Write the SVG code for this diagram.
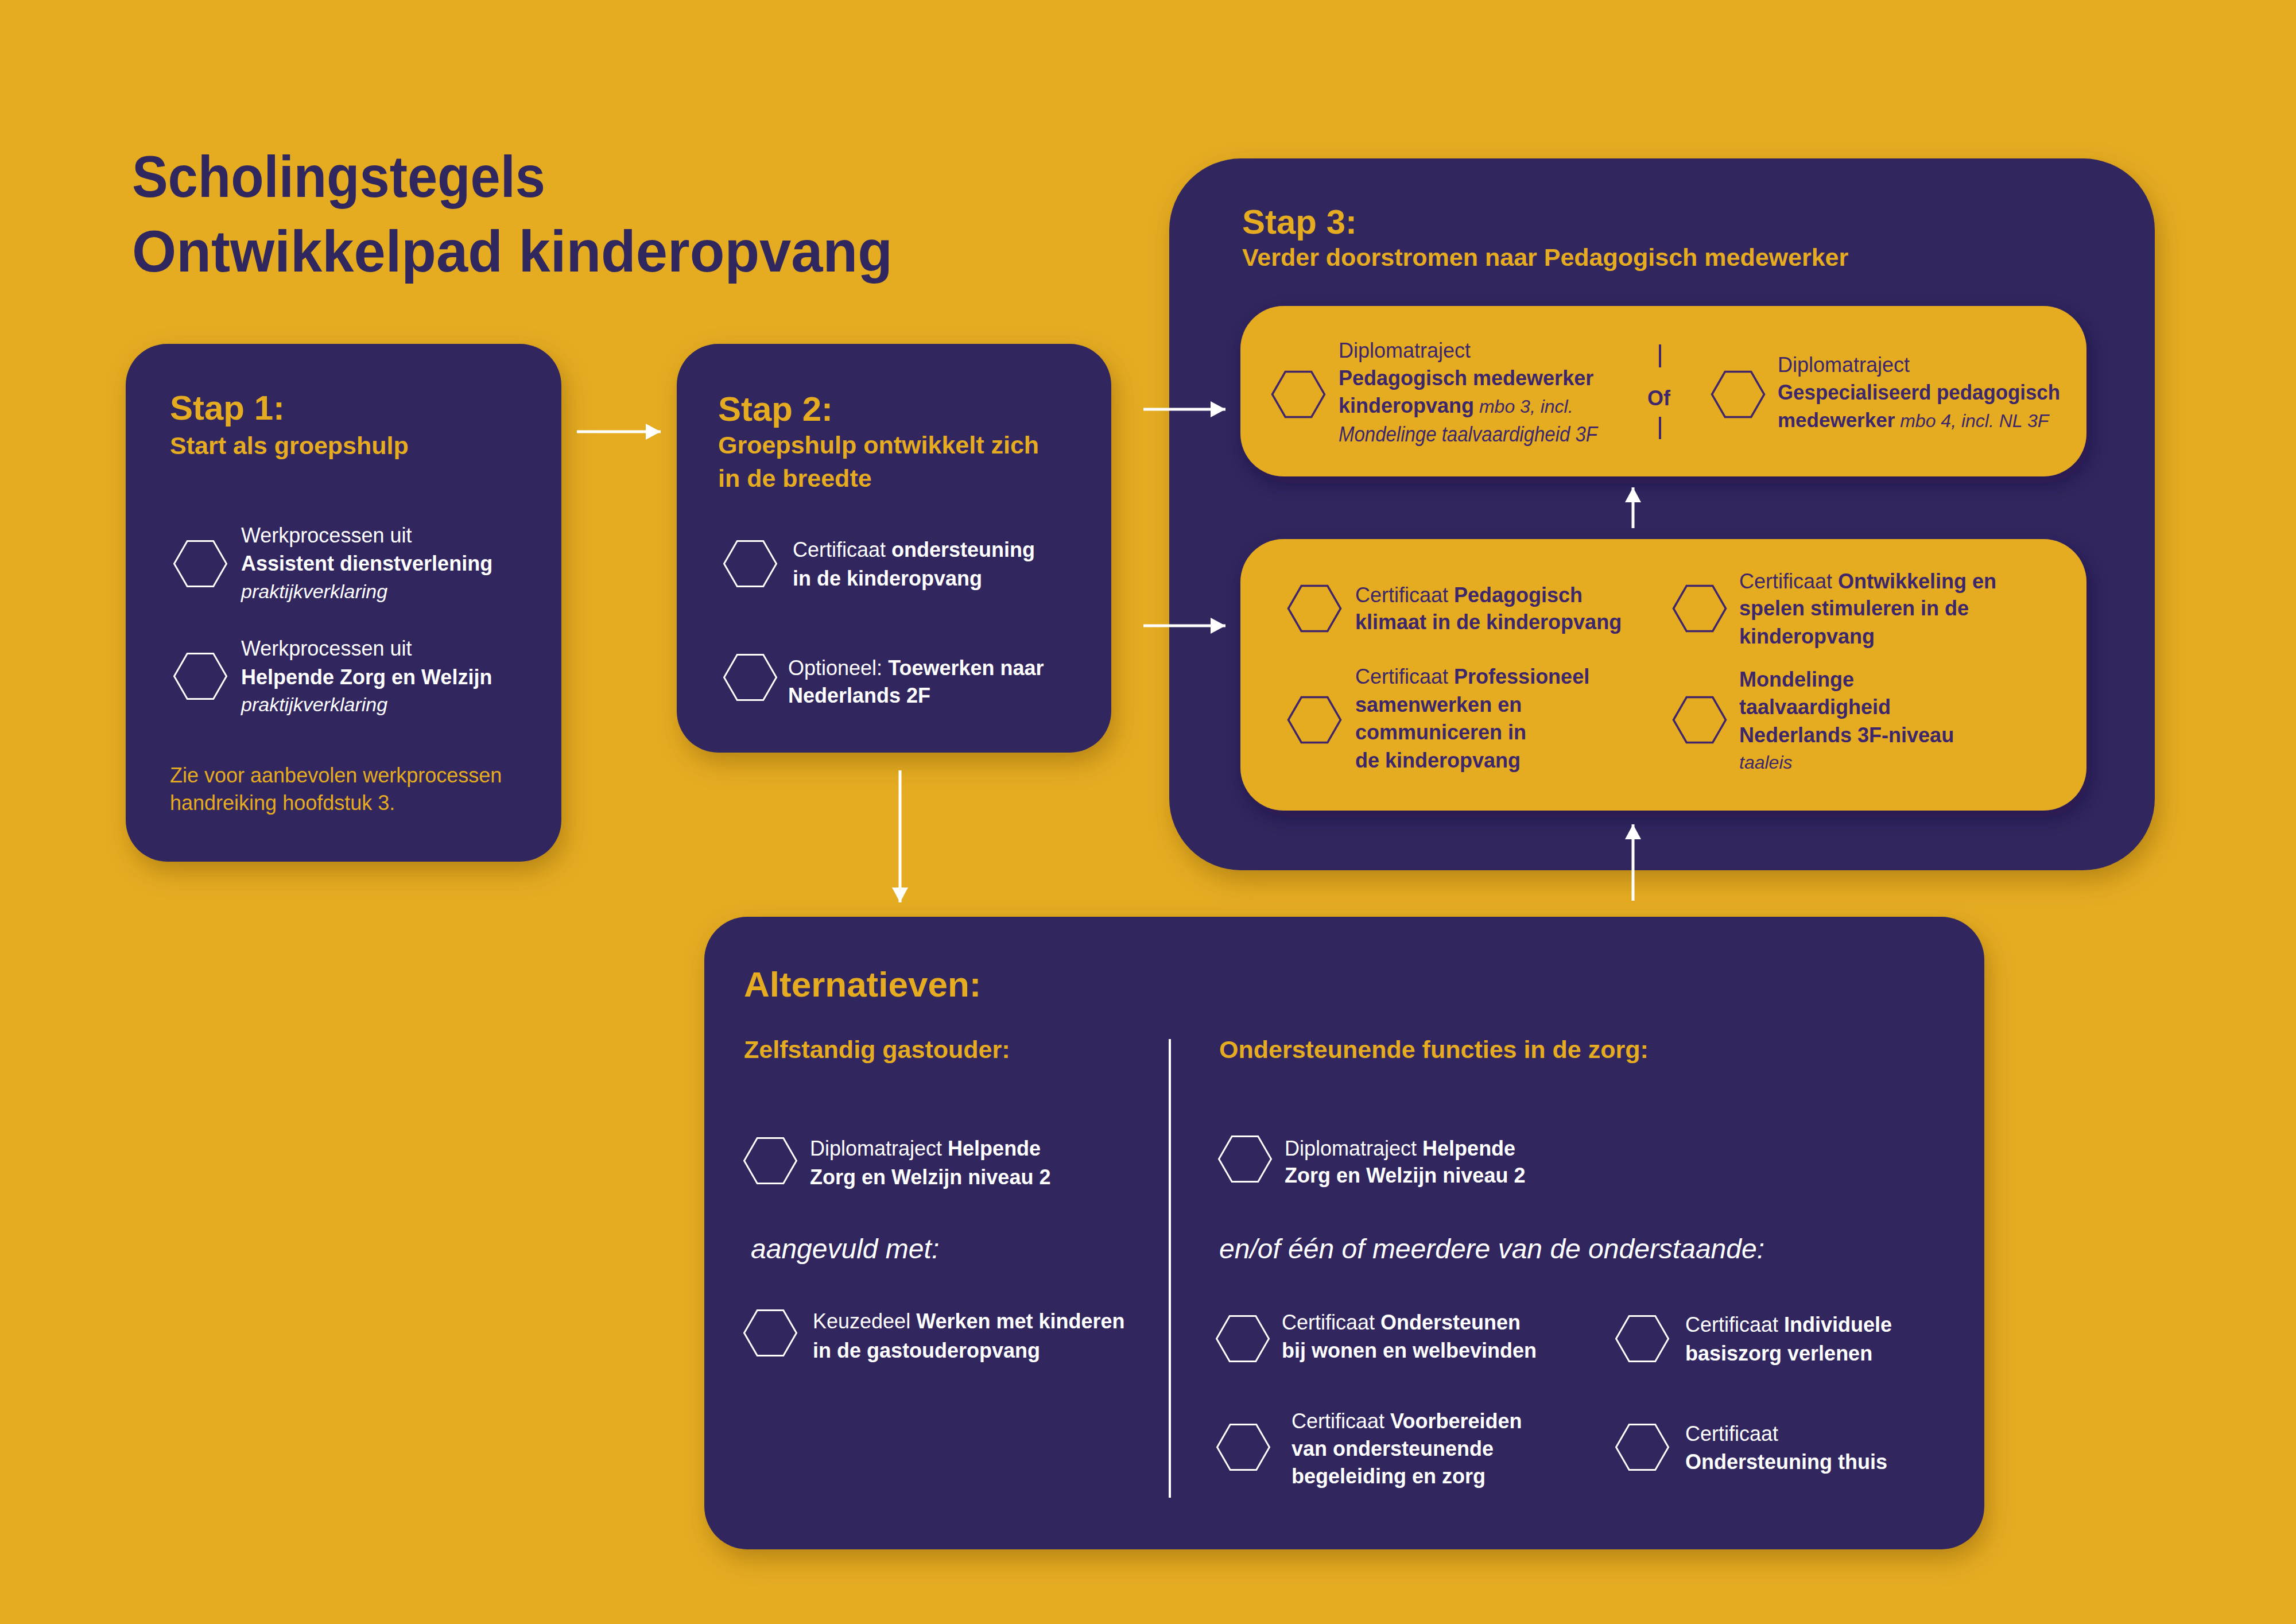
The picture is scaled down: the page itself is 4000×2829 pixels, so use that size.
<svg xmlns="http://www.w3.org/2000/svg" width="4000" height="2829" viewBox="0 0 4000 2829">
<defs>
<style>
text{font-family:"Liberation Sans",Arial,sans-serif}
.box{fill:#30275f;filter:url(#sh)}
.ybox{fill:#e5ac21;filter:url(#sh2)}
.hw{fill:none;stroke:#fff;stroke-width:3}
.hp{fill:none;stroke:#40256a;stroke-width:3.5}
.w{fill:#fff;font-size:36px}
.p{fill:#3d2669;font-size:36px}
.y{fill:#e5ac21}
.b{font-weight:700}
.i{font-style:italic}
.h1{font-size:60px;font-weight:700}
.h2{font-size:43px;font-weight:700}
.it34{font-size:34px}
.it32{font-size:32px}
.big{font-size:48px;font-style:italic}
.conn line{stroke:#fff;stroke-width:5;marker-end:url(#ah)}
</style>
<filter id="sh" x="-10%" y="-10%" width="125%" height="130%">
<feDropShadow dx="8" dy="18" stdDeviation="22" flood-color="#6e4400" flood-opacity="0.38"/>
</filter>
<filter id="sh2" x="-10%" y="-10%" width="125%" height="135%">
<feDropShadow dx="6" dy="12" stdDeviation="18" flood-color="#120c30" flood-opacity="0.45"/>
</filter>
<marker id="ah" markerUnits="userSpaceOnUse" markerWidth="30" markerHeight="30" refX="26" refY="15" orient="auto">
<path d="M0,1 L26,15 L0,29 z" fill="#fff"/>
</marker>
<polygon id="hex" points="-45.5,0 -22.75,-39.4 22.75,-39.4 45.5,0 22.75,39.4 -22.75,39.4"/>
</defs>

<rect x="0" y="0" width="4000" height="2829" fill="#e5ac21"/>

<g id="title">
<text x="230" y="343" font-size="102" font-weight="700" fill="#30275f" textLength="720" lengthAdjust="spacingAndGlyphs">Scholingstegels</text>
<text x="230" y="473" font-size="102" font-weight="700" fill="#30275f" textLength="1325" lengthAdjust="spacingAndGlyphs">Ontwikkelpad kinderopvang</text>
</g>

<g id="stap1">
<rect class="box" x="219" y="599" width="759" height="902" rx="72"/>
<text class="y h1" x="296" y="731">Stap 1:</text>
<text class="y h2" x="296" y="791">Start als groepshulp</text>
<use href="#hex" class="hw" x="349" y="982"/>
<text class="w" x="420" y="945">Werkprocessen uit</text>
<text class="w b" x="420" y="994">Assistent dienstverlening</text>
<text class="w i it34" x="420" y="1042">praktijkverklaring</text>
<use href="#hex" class="hw" x="349" y="1178"/>
<text class="w" x="420" y="1142">Werkprocessen uit</text>
<text class="w b" x="420" y="1192">Helpende Zorg en Welzijn</text>
<text class="w i it34" x="420" y="1239">praktijkverklaring</text>
<text class="y" font-size="36" x="296" y="1363">Zie voor aanbevolen werkprocessen</text>
<text class="y" font-size="36" x="296" y="1411">handreiking hoofdstuk 3.</text>
</g>

<g id="stap2">
<rect class="box" x="1179" y="599" width="757" height="712" rx="72"/>
<text class="y h1" x="1251" y="733">Stap 2:</text>
<text class="y h2" x="1251" y="790">Groepshulp ontwikkelt zich</text>
<text class="y h2" x="1251" y="848">in de breedte</text>
<use href="#hex" class="hw" x="1307" y="982"/>
<text class="w" x="1381" y="970">Certificaat <tspan class="b">ondersteuning</tspan></text>
<text class="w b" x="1381" y="1020">in de kinderopvang</text>
<use href="#hex" class="hw" x="1307" y="1180"/>
<text class="w" x="1373" y="1176">Optioneel: <tspan class="b">Toewerken naar</tspan></text>
<text class="w b" x="1373" y="1224">Nederlands 2F</text>
</g>

<g id="stap3">
<rect class="box" x="2037" y="276" width="1717" height="1240" rx="125"/>
<text class="y h1" x="2164" y="407">Stap 3:</text>
<text class="y h2" x="2164" y="463">Verder doorstromen naar Pedagogisch medewerker</text>
</g>

<g id="diplomatrajecten">
<rect class="ybox" x="2161" y="533" width="1474" height="297" rx="75"/>
<use href="#hex" class="hp" x="2262" y="687"/>
<text class="p" x="2332" y="623">Diplomatraject</text>
<text class="p b" x="2332" y="671">Pedagogisch medewerker</text>
<text class="p" x="2332" y="719"><tspan class="b">kinderopvang</tspan><tspan class="i it32"> mbo 3, incl.</tspan></text>
<text class="p i" font-size="33" x="2332" y="769" textLength="451" lengthAdjust="spacingAndGlyphs">Mondelinge taalvaardigheid 3F</text>
<line x1="2892" y1="600" x2="2892" y2="640" stroke="#40256a" stroke-width="4"/>
<text class="p b" font-size="62" x="2890" y="706" text-anchor="middle">Of</text>
<line x1="2892" y1="726" x2="2892" y2="765" stroke="#40256a" stroke-width="4"/>
<use href="#hex" class="hp" x="3028" y="687"/>
<text class="p" x="3097" y="648">Diplomatraject</text>
<text class="p b" font-size="35" x="3097" y="696" textLength="492" lengthAdjust="spacingAndGlyphs">Gespecialiseerd pedagogisch</text>
<text class="p" x="3097" y="744"><tspan class="b" font-size="35">medewerker</tspan><tspan class="i it32"> mbo 4, incl. NL 3F</tspan></text>
</g>

<g id="certificaten">
<rect class="ybox" x="2161" y="939" width="1474" height="473" rx="75"/>
<use href="#hex" class="hp" x="2290" y="1060"/>
<text class="p" x="2361" y="1049">Certificaat <tspan class="b">Pedagogisch</tspan></text>
<text class="p b" x="2361" y="1096">klimaat in de kinderopvang</text>
<use href="#hex" class="hp" x="2290" y="1254"/>
<text class="p" x="2361" y="1191">Certificaat <tspan class="b">Professioneel</tspan></text>
<text class="p b" x="2361" y="1240">samenwerken en</text>
<text class="p b" x="2361" y="1288">communiceren in</text>
<text class="p b" x="2361" y="1337">de kinderopvang</text>
<use href="#hex" class="hp" x="2961" y="1060"/>
<text class="p" x="3030" y="1025">Certificaat <tspan class="b">Ontwikkeling en</tspan></text>
<text class="p b" x="3030" y="1072">spelen stimuleren in de</text>
<text class="p b" x="3030" y="1121">kinderopvang</text>
<use href="#hex" class="hp" x="2961" y="1254"/>
<text class="p b" x="3030" y="1196">Mondelinge</text>
<text class="p b" x="3030" y="1244">taalvaardigheid</text>
<text class="p b" x="3030" y="1293">Nederlands 3F-niveau</text>
<text class="p i it32" x="3030" y="1339">taaleis</text>
</g>

<g id="alternatieven">
<rect class="box" x="1227" y="1597" width="2230" height="1102" rx="75"/>
<text class="y b" font-size="62" x="1296" y="1736">Alternatieven:</text>
<text class="y h2" x="1296" y="1843">Zelfstandig gastouder:</text>
<line x1="2038" y1="1810" x2="2038" y2="2609" stroke="#fff" stroke-width="4"/>
<use href="#hex" class="hw" x="1342" y="2022"/>
<text class="w" x="1411" y="2013">Diplomatraject <tspan class="b">Helpende</tspan></text>
<text class="w b" x="1411" y="2063">Zorg en Welzijn niveau 2</text>
<text class="w big" x="1308" y="2192">aangevuld met:</text>
<use href="#hex" class="hw" x="1342" y="2322"/>
<text class="w" x="1416" y="2314">Keuzedeel <tspan class="b">Werken met kinderen</tspan></text>
<text class="w b" x="1416" y="2365">in de gastouderopvang</text>

<text class="y h2" x="2124" y="1843">Ondersteunende functies in de zorg:</text>
<use href="#hex" class="hw" x="2169" y="2019"/>
<text class="w" x="2238" y="2013">Diplomatraject <tspan class="b">Helpende</tspan></text>
<text class="w b" x="2238" y="2060">Zorg en Welzijn niveau 2</text>
<text class="w big" x="2124" y="2192">en/of één of meerdere van de onderstaande:</text>
<use href="#hex" class="hw" x="2165" y="2332"/>
<text class="w" x="2233" y="2316">Certificaat <tspan class="b">Ondersteunen</tspan></text>
<text class="w b" x="2233" y="2365">bij wonen en welbevinden</text>
<use href="#hex" class="hw" x="2861" y="2332"/>
<text class="w" x="2936" y="2320">Certificaat <tspan class="b">Individuele</tspan></text>
<text class="w b" x="2936" y="2370">basiszorg verlenen</text>
<use href="#hex" class="hw" x="2166" y="2521"/>
<text class="w" x="2250" y="2488">Certificaat <tspan class="b">Voorbereiden</tspan></text>
<text class="w b" x="2250" y="2536">van ondersteunende</text>
<text class="w b" x="2250" y="2584">begeleiding en zorg</text>
<use href="#hex" class="hw" x="2861" y="2521"/>
<text class="w" x="2936" y="2510">Certificaat</text>
<text class="w b" x="2936" y="2559">Ondersteuning thuis</text>
</g>

<g id="connectors" class="conn">
<line x1="1005" y1="752" x2="1151" y2="752"/>
<line x1="1992" y1="713" x2="2135" y2="713"/>
<line x1="1992" y1="1090" x2="2135" y2="1090"/>
<line x1="1568" y1="1342" x2="1568" y2="1572"/>
<line x1="2845" y1="920" x2="2845" y2="849"/>
<line x1="2845" y1="1569" x2="2845" y2="1436"/>
</g>
</svg>
